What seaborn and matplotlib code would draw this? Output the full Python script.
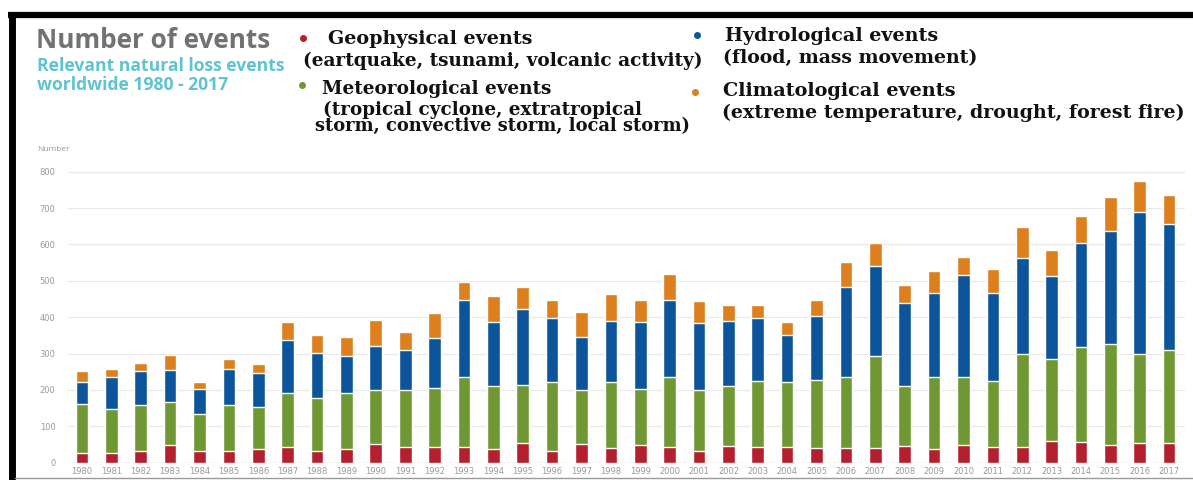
import matplotlib
matplotlib.use("Agg")
import matplotlib.pyplot as plt
from matplotlib.lines import Line2D
import numpy as np
import seaborn as sns

# Relevant natural loss events worldwide, 1980-2017 (number of events per year)
years = [str(y) for y in range(1980, 2018)]
geophysical = [28, 28, 32, 50, 32, 32, 39, 42, 32, 39, 51, 42, 42, 42, 39, 53, 32, 51, 41,
               49, 44, 32, 46, 44, 44, 41, 41, 41, 47, 39, 49, 43, 44, 60, 56, 49, 53, 53]
meteorological = [133, 119, 127, 116, 102, 127, 115, 149, 145, 152, 149, 158, 164, 193, 172,
                  161, 191, 149, 182, 153, 191, 168, 165, 181, 177, 185, 195, 253, 165, 197,
                  187, 182, 256, 224, 263, 277, 246, 257]
hydrological = [60, 88, 93, 89, 69, 98, 92, 145, 125, 102, 121, 110, 138, 212, 177, 209, 174,
                145, 166, 185, 212, 183, 178, 172, 130, 178, 246, 248, 226, 230, 281, 242,
                264, 229, 285, 311, 391, 346]
climatological = [31, 22, 21, 42, 20, 27, 26, 51, 49, 52, 70, 48, 68, 49, 69, 61, 50, 70, 76,
                  60, 72, 61, 44, 36, 36, 43, 69, 62, 51, 61, 48, 65, 83, 71, 73, 93, 83, 80]
y_ticks = [0, 100, 200, 300, 400, 500, 600, 700, 800]

series = [geophysical, meteorological, hydrological, climatological]
colors = ["#b42030", "#6f9834", "#0d559b", "#dc7f1c"]

W, H = 1193, 480
sns.set_style("white")
fig = plt.figure(figsize=(W / 100, H / 100), dpi=100)


def fx(x):
    return x / W


def fy(y):
    return 1 - y / H


# plot area
ax = fig.add_axes([fx(68), fy(462.7), fx(1185) - fx(68), (462.7 - 168) / H])

# stacked bars: draw cumulative totals from the top layer down
stack = np.cumsum(np.array(series), axis=0)
for level in range(len(series) - 1, -1, -1):
    sns.barplot(x=years, y=stack[level], color=colors[level], width=0.43,
                saturation=1, ax=ax, zorder=2)

ax.set_xlim(-0.476, 37.54)
ax.set_ylim(0, 810)
ax.set_yticks(y_ticks)
ax.set_yticklabels([str(t) for t in y_ticks])
ax.yaxis.grid(True, color="#e9e9e9", linewidth=0.9)
ax.axhline(0, color="#f1d2d2", linewidth=0.9, zorder=1)
ax.set_axisbelow(True)
for s in ax.spines.values():
    s.set_visible(False)
ax.tick_params(axis="both", length=0, labelsize=6, labelcolor="#9a9a9a")
ax.tick_params(axis="y", pad=9)
ax.tick_params(axis="x", pad=3)
ax.set_xlabel("")
ax.set_ylabel("")

# heading block
fig.text(fx(36), fy(27), "Number of events", family="Open Sans", weight="bold",
         fontsize=18.8, color="#727272", va="top", ha="left")
fig.text(fx(37), fy(57), "Relevant natural loss events", family="Open Sans", weight="bold",
         fontsize=12.6, color="#5ec3d2", va="top", ha="left")
fig.text(fx(37), fy(76), "worldwide 1980 - 2017", family="Open Sans", weight="bold",
         fontsize=12.6, color="#5ec3d2", va="top", ha="left")
fig.text(fx(37), fy(146), "Number", family="Open Sans", fontsize=6, color="#9a9a9a",
         va="top", ha="left")

# legend
serif = dict(family="DejaVu Serif", weight="bold", color="#111111", va="top", ha="left")
legend_items = [
    (colors[0], (303, 38), [((328, 30), "Geophysical events", 13.8),
                            ((303, 52), "(eartquake, tsunami, volcanic activity)", 13.3)]),
    (colors[1], (302, 85), [((322, 80), "Meteorological events", 13.3),
                            ((323, 101), "(tropical cyclone, extratropical", 13.2),
                            ((315, 117), "storm, convective storm, local storm)", 12.9)]),
    (colors[2], (697, 35), [((725, 27), "Hydrological events", 13.8),
                            ((723, 49), "(flood, mass movement)", 13.6)]),
    (colors[3], (695, 92), [((723, 82), "Climatological events", 13.9),
                            ((722, 104), "(extreme temperature, drought, forest fire)", 13.7)]),
]
for col, (dx, dy), lines in legend_items:
    fig.add_artist(Line2D([fx(dx)], [fy(dy)], marker="o", markersize=4,
                          color=col, linestyle="none", transform=fig.transFigure))
    for (tx, ty), txt, size in lines:
        fig.text(fx(tx), fy(ty), txt, fontsize=size, **serif)

# outer frame
fig.add_artist(Line2D([fx(8), 1.0], [fy(15), fy(15)], color="black", linewidth=4.5,
                      transform=fig.transFigure, solid_capstyle="butt"))
fig.add_artist(Line2D([fx(11.5), fx(11.5)], [0.0, fy(12)], color="black", linewidth=5,
                      transform=fig.transFigure, solid_capstyle="butt"))
fig.add_artist(Line2D([fx(15), 1.0], [fy(478), fy(478)], color="#9a9a9a", linewidth=1,
                      transform=fig.transFigure))

fig.savefig("out.png", dpi=100)
